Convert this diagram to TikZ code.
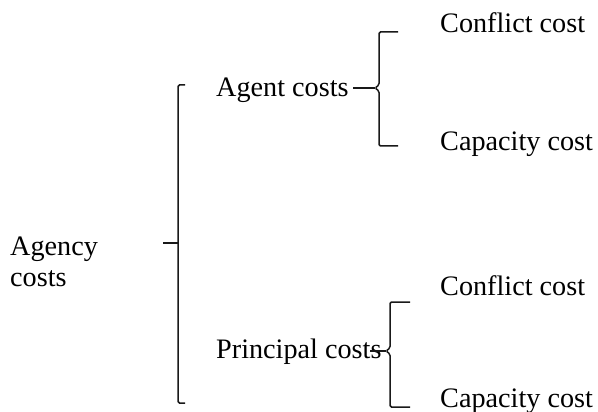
\documentclass[tikz,border=0pt]{standalone}
\usepackage{fontspec}
\setmainfont{Liberation Serif}
\begin{document}
\begin{tikzpicture}[x=1pt,y=-1pt,
  lbl/.style={anchor=base west,inner sep=0pt,font=\fontsize{28.2}{32}\selectfont},
  brk/.style={line width=1.5pt,black!90,rounded corners=1.5pt}]
\useasboundingbox[fill=white] (0,0) rectangle (598,412);
% texts
\node[lbl] (agency1) at (10,255) {Agency};
\node[lbl] (agency2) at (10,286) {costs};
\node[lbl] (agent) at (216,97) {Agent costs};
\node[lbl] (principal) at (216,358) {Principal costs};
\node[lbl] (conf1) at (440,33) {Conflict cost};
\node[lbl] (cap1) at (440,150) {Capacity cost};
\node[lbl] (conf2) at (440,295) {Conflict cost};
\node[lbl] (cap2) at (440,407) {Capacity cost};
% big bracket
\coordinate (bt) at (178,85);
\coordinate (bb) at (178,403);
\coordinate (bm) at (178,243);
\draw[brk] (185,85) -- (bt) -- (bb) -- (185,403);
\draw[brk] (163,243) -- (bm);
% agent bracket
\draw[brk] (398,32) -- (379,32) -- (379,85) -- (375,88) -- (379,91) -- (379,146) -- (398,146);
\draw[brk] (353,88) -- (375,88);
% principal bracket
\draw[brk] (410,302) -- (390,302) -- (390,348) -- (386,351) -- (390,354) -- (390,407) -- (410,407);
\draw[brk] (370,351) -- (386,351);
\end{tikzpicture}
\end{document}
